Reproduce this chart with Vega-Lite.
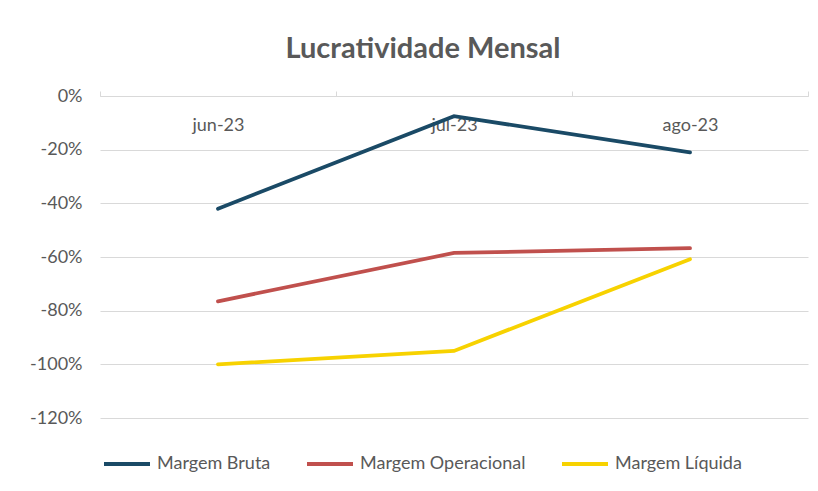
{
  "$schema": "https://vega.github.io/schema/vega-lite/v6.json",
  "width": 708,
  "height": 322,
  "autosize": {"type": "none"},
  "padding": {"left": 100, "top": 96, "right": 10, "bottom": 73},
  "background": "white",
  "title": {"text": "Lucratividade Mensal", "font": "Lato", "fontSize": 29, "fontWeight": "bold", "color": "#595959", "anchor": "middle", "offset": 23, "dx": -31},
  "data": {"values": [
    {"mes": "jun-23", "serie": "Margem Bruta", "v": -0.42},
    {"mes": "jul-23", "serie": "Margem Bruta", "v": -0.075},
    {"mes": "ago-23", "serie": "Margem Bruta", "v": -0.21},
    {"mes": "jun-23", "serie": "Margem Operacional", "v": -0.765},
    {"mes": "jul-23", "serie": "Margem Operacional", "v": -0.585},
    {"mes": "ago-23", "serie": "Margem Operacional", "v": -0.567},
    {"mes": "jun-23", "serie": "Margem Líquida", "v": -1.0},
    {"mes": "jul-23", "serie": "Margem Líquida", "v": -0.95},
    {"mes": "ago-23", "serie": "Margem Líquida", "v": -0.608}
  ]},
  "mark": {"type": "line", "strokeWidth": 3.8, "strokeCap": "round"},
  "encoding": {
    "x": {"field": "mes", "type": "nominal", "sort": ["jun-23", "jul-23", "ago-23"], "title": null,
      "scale": {"paddingInner": 0, "paddingOuter": 0},
      "axis": {"orient": "top", "labelAngle": 0, "tickBand": "extent", "tickSize": 5, "tickColor": "#D9D9D9", "domainColor": "#D9D9D9", "labelBaseline": "middle", "labelPadding": -34, "labelFont": "Lato", "labelFontSize": 18, "labelColor": "#595959", "grid": false}},
    "y": {"field": "v", "type": "quantitative", "title": null,
      "scale": {"domain": [-1.2, 0], "nice": false},
      "axis": {"values": [0, -0.2, -0.4, -0.6, -0.8, -1.0, -1.2], "labelExpr": "(datum.value < 0 ? '-' : '') + format(abs(datum.value) * 100, '.0f') + '%'", "domain": false, "ticks": false, "gridColor": "#D9D9D9", "labelFont": "Lato", "labelFontSize": 18, "labelColor": "#595959", "labelPadding": 18}},
    "color": {"field": "serie", "type": "nominal", "sort": ["Margem Bruta", "Margem Operacional", "Margem Líquida"],
      "scale": {"domain": ["Margem Bruta", "Margem Operacional", "Margem Líquida"], "range": ["#1A4A66", "#C0504D", "#F7D200"]},
      "legend": {"orient": "none", "legendX": 2, "legendY": 343, "direction": "horizontal", "title": null, "symbolType": "stroke", "symbolSize": 2116, "symbolStrokeWidth": 3.8, "labelFont": "Lato", "labelFontSize": 18, "labelColor": "#595959", "labelLimit": 400, "columnPadding": 28, "labelOffset": 5}}
  },
  "config": {"view": {"stroke": null}}
}
